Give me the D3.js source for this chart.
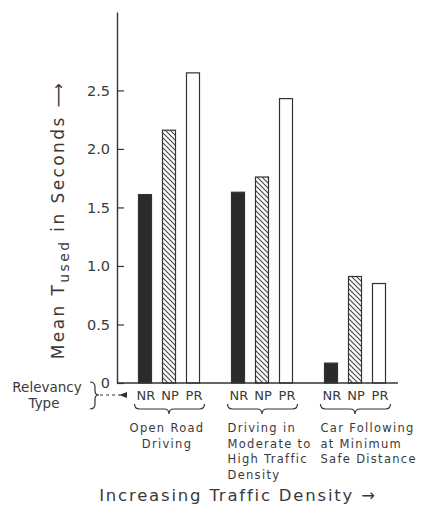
<!DOCTYPE html>
<html>
<head>
<meta charset="utf-8">
<script src="https://cdn.jsdelivr.net/npm/d3@7"></script>
<style>
  body { margin: 0; background: #fff; }
  text { font-family: "DejaVu Sans", sans-serif; fill: #3a3a3a; }
</style>
</head>
<body>
<svg id="chart" width="438" height="513"></svg>
<script>
// data
const groups = ["Open Road Driving", "Moderate to High", "Car Following"];
const groupLines = [
    ["Open Road", "Driving"],
    ["Driving in", "Moderate to", "High Traffic", "Density"],
    ["Car Following", "at Minimum", "Safe Distance"]
];
const types = ["NR", "NP", "PR"];
const nrValues = [1.61, 1.63, 0.17];
const npValues = [2.16, 1.76, 0.91];
const prValues = [2.65, 2.43, 0.85];
const yTicks = [0, 0.5, 1.0, 1.5, 2.0, 2.5];

const svg = d3.select("#chart");
const ink = "#333";

const y = d3.scaleLinear().domain([0, 3.17]).range([383, 12]);
const xGroup = d3.scalePoint().domain(groups).range([169, 355]);
const xType = d3.scalePoint().domain(types).range([-24, 24]);
const barW = 13;

// hatch pattern for NP bars
const defs = svg.append("defs");
const pat = defs.append("pattern")
    .attr("id", "hatch")
    .attr("patternUnits", "userSpaceOnUse")
    .attr("width", 5).attr("height", 5);
pat.append("path")
    .attr("d", "M0,0 L5,5 M-1,4 L1,6 M4,-1 L6,1")
    .attr("stroke", "#444").attr("stroke-width", 1.1);

const rows = [];
groups.forEach((g, i) => {
    rows.push({ g, t: "NR", v: nrValues[i] });
    rows.push({ g, t: "NP", v: npValues[i] });
    rows.push({ g, t: "PR", v: prValues[i] });
});
const fills = { NR: "#2b2b2b", NP: "url(#hatch)", PR: "#fff" };

svg.selectAll("rect.bar").data(rows)
    .join("rect")
    .attr("class", "bar")
    .attr("x", d => xGroup(d.g) + xType(d.t) - barW / 2)
    .attr("y", d => y(d.v))
    .attr("width", barW)
    .attr("height", d => y(0) - y(d.v))
    .attr("fill", d => fills[d.t])
    .attr("stroke", ink)
    .attr("stroke-width", 1.2);

// y axis
const yAxis = d3.axisLeft(y)
    .tickValues(yTicks)
    .tickSize(-7)
    .tickSizeOuter(0)
    .tickPadding(7)
    .tickFormat(d => d === 0 ? "0" : d.toFixed(1));
const ax = svg.append("g")
    .attr("transform", "translate(117,0)")
    .call(yAxis);
ax.select(".domain").attr("stroke", ink).attr("stroke-width", 1.4);
ax.selectAll(".tick line").attr("stroke", ink).attr("stroke-width", 1.2);
ax.selectAll(".tick text")
    .attr("font-size", 14.5)
    .attr("font-family", "DejaVu Sans")
    .attr("fill", "#3a3a3a");

// baseline
svg.append("line")
    .attr("x1", 117).attr("x2", 398)
    .attr("y1", y(0)).attr("y2", y(0))
    .attr("stroke", ink).attr("stroke-width", 1.4);

// type labels under bars
svg.selectAll("text.type").data(rows)
    .join("text")
    .attr("class", "type")
    .attr("x", d => xGroup(d.g) + xType(d.t) + 1)
    .attr("y", 400)
    .attr("text-anchor", "middle")
    .attr("font-size", 13)
    .text(d => d.t);

// braces under groups
groups.forEach((g, i) => {
    const cx = xGroup(g);
    const x0 = cx + xType("NR") - barW / 2 - 4;
    const x1 = cx + xType("PR") + barW / 2 + 5;
    const t = 404, m = 409, b = 414;
    svg.append("path")
        .attr("d", `M${x0},${t} Q${x0},${m} ${x0 + 5},${m} L${cx - 5},${m} Q${cx},${m} ${cx},${b} ` +
            `Q${cx},${m} ${cx + 5},${m} L${x1 - 5},${m} Q${x1},${m} ${x1},${t}`)
        .attr("fill", "none").attr("stroke", ink).attr("stroke-width", 1.2);

    const lx = i === 0 ? cx - 2 : cx + xType("NR") - barW / 2 - 4;
    svg.append("text")
        .attr("x", lx)
        .attr("text-anchor", i === 0 ? "middle" : "start")
        .attr("font-size", 11.5)
        .attr("letter-spacing", 1.3)
        .selectAll("tspan").data(groupLines[i])
        .join("tspan")
        .attr("x", lx)
        .attr("y", (d, j) => 432 + j * 15.5)
        .text(d => d);
});

// relevancy type key
svg.append("text").attr("x", 47).attr("y", 392).attr("text-anchor", "middle")
    .attr("font-size", 13.5).text("Relevancy");
svg.append("text").attr("x", 44).attr("y", 408).attr("text-anchor", "middle")
    .attr("font-size", 13.5).text("Type");
svg.append("path")
    .attr("d", "M90,382 Q95,382 95,387 L95,391 Q95,395 99,395 Q95,395 95,399 L95,404 Q95,409 90,409")
    .attr("fill", "none").attr("stroke", ink).attr("stroke-width", 1.2);
svg.append("line")
    .attr("x1", 100).attr("x2", 120).attr("y1", 395).attr("y2", 395)
    .attr("stroke", ink).attr("stroke-width", 1.2).attr("stroke-dasharray", "3,3");
svg.append("path")
    .attr("d", "M119,395 L127,392 L127,398 Z")
    .attr("fill", ink);

// y axis title
const yt = svg.append("text")
    .attr("transform", "translate(64,220) rotate(-90)")
    .attr("text-anchor", "middle")
    .attr("font-size", 17)
    .attr("letter-spacing", 2.4);
yt.append("tspan").text("Mean T");
yt.append("tspan").attr("font-size", 14).attr("dy", 5).text("used");
yt.append("tspan").attr("dy", -5).text(" in Seconds \u27F6");

// x axis title
svg.append("text")
    .attr("x", 238).attr("y", 501)
    .attr("text-anchor", "middle")
    .attr("font-size", 16.5)
    .attr("letter-spacing", 1.8)
    .text("Increasing Traffic Density \u2192");
</script>
</body>
</html>
